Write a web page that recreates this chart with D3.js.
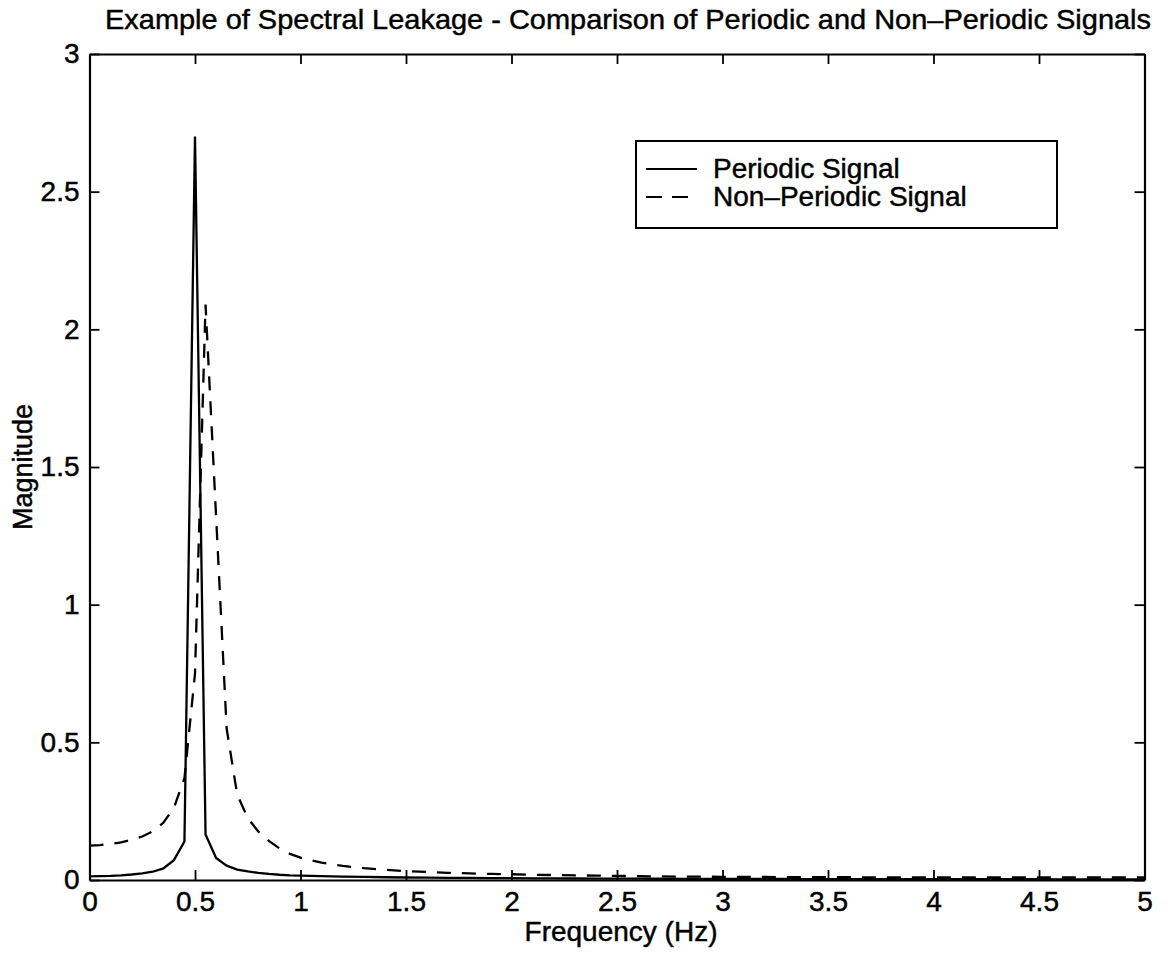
<!DOCTYPE html>
<html>
<head>
<meta charset="utf-8">
<script src="https://cdn.jsdelivr.net/npm/d3@7"></script>
<style>
  html, body { margin: 0; padding: 0; background: #fff; }
  svg { display: block; }
  text { font-family: "Liberation Sans", Arial, Helvetica, sans-serif; fill: #000; stroke: #000; stroke-width: 0.45px; }
</style>
</head>
<body>
<svg id="chart" width="1168" height="956"></svg>
<script>
// ---- data ----
const titleText = "Example of Spectral Leakage - Comparison of Periodic and Non\u2013Periodic Signals";
const xLabel = "Frequency (Hz)";
const yLabel = "Magnitude";
const seriesNames = ["Periodic Signal", "Non\u2013Periodic Signal"];

const freqs = [0, 0.05, 0.1, 0.15, 0.2, 0.25, 0.3, 0.35, 0.4, 0.45, 0.5, 0.55, 0.6, 0.65, 0.7, 0.75, 0.8, 0.85, 0.9, 0.95, 1.0,
  1.1, 1.2, 1.3, 1.4, 1.5, 1.6, 1.7, 1.8, 1.9, 2.0, 2.1, 2.2, 2.3, 2.4, 2.5, 2.6, 2.7, 2.8, 2.9, 3.0,
  3.1, 3.2, 3.3, 3.4, 3.5, 3.6, 3.7, 3.8, 3.9, 4.0, 4.1, 4.2, 4.3, 4.4, 4.5, 4.6, 4.7, 4.8, 4.9, 5.0];

const periodic = [0.013, 0.014, 0.015, 0.017, 0.020, 0.024, 0.030, 0.042, 0.072, 0.14, 2.70, 0.165, 0.080, 0.052, 0.038, 0.031, 0.026, 0.022, 0.019, 0.017, 0.016,
  0.014, 0.012, 0.011, 0.010, 0.009, 0.0085, 0.008, 0.0075, 0.007, 0.0066, 0.0062, 0.0058, 0.0055, 0.0052, 0.005, 0.0047, 0.0045, 0.0043, 0.0041, 0.004,
  0.0038, 0.0037, 0.0036, 0.0035, 0.0034, 0.0033, 0.0032, 0.0031, 0.003, 0.003, 0.0029, 0.0028, 0.0028, 0.0027, 0.0027, 0.0026, 0.0026, 0.0025, 0.0025, 0.0025];

const nonPeriodic = [0.125, 0.127, 0.131, 0.137, 0.146, 0.158, 0.177, 0.208, 0.262, 0.37, 0.75, 2.09, 1.32, 0.55, 0.31, 0.225, 0.176, 0.142, 0.115, 0.095, 0.081,
  0.063, 0.051, 0.043, 0.037, 0.032, 0.029, 0.026, 0.024, 0.022, 0.021, 0.019, 0.018, 0.017, 0.016, 0.015, 0.014, 0.013, 0.0125, 0.012, 0.0115,
  0.011, 0.011, 0.0105, 0.0105, 0.010, 0.010, 0.0098, 0.0096, 0.0095, 0.0094, 0.0093, 0.0092, 0.0092, 0.0091, 0.0091, 0.009, 0.009, 0.009, 0.009, 0.009];

const xTicks = [0, 0.5, 1, 1.5, 2, 2.5, 3, 3.5, 4, 4.5, 5];
const yTicks = [0, 0.5, 1, 1.5, 2, 2.5, 3];

// ---- layout ----
const svg = d3.select("#chart");
const L = 89.5, R = 1144.5, T = 54, B = 880;
const x = d3.scaleLinear().domain([0, 5]).range([L, R]);
const y = d3.scaleLinear().domain([0, 3]).range([B, T]);
const fmt = d => String(d);
const tickFont = 28;

svg.append("rect").attr("width", 1168).attr("height", 956).attr("fill", "#fff");

// lines
const line = d3.line().x((d, i) => x(freqs[i])).y(d => y(d));
svg.append("path").datum(nonPeriodic)
  .attr("d", line).attr("fill", "none").attr("stroke", "#000")
  .attr("stroke-width", 2.3).attr("stroke-dasharray", "14,11");
svg.append("path").datum(periodic)
  .attr("d", line).attr("fill", "none").attr("stroke", "#000")
  .attr("stroke-width", 2.3).attr("stroke-linejoin", "miter");

// axes
function styleAxis(g) {
  g.selectAll("path.domain").attr("stroke", "#000").attr("stroke-width", 2.2);
  g.selectAll(".tick line").attr("stroke", "#000").attr("stroke-width", 1.8);
  g.selectAll(".tick text").style("font-size", tickFont + "px").attr("fill", "#000")
    .style("font-family", '"Liberation Sans", Arial, sans-serif');
}
svg.append("g").attr("transform", `translate(0,${B})`)
  .call(d3.axisBottom(x).tickValues(xTicks).tickFormat(fmt).tickSizeInner(-10).tickSizeOuter(0).tickPadding(11))
  .call(styleAxis);
svg.append("g").attr("transform", `translate(0,${T})`)
  .call(d3.axisTop(x).tickValues(xTicks).tickFormat("").tickSizeInner(-10).tickSizeOuter(0))
  .call(styleAxis);
svg.append("g").attr("transform", `translate(${L},0)`)
  .call(d3.axisLeft(y).tickValues(yTicks).tickFormat(fmt).tickSizeInner(-10).tickSizeOuter(0).tickPadding(10))
  .call(styleAxis);
svg.append("g").attr("transform", `translate(${R},0)`)
  .call(d3.axisRight(y).tickValues(yTicks).tickFormat("").tickSizeInner(-10).tickSizeOuter(0))
  .call(styleAxis);

// title & labels
svg.append("text").attr("x", 628).attr("y", 29).attr("text-anchor", "middle")
  .attr("textLength", 1046).attr("lengthAdjust", "spacingAndGlyphs")
  .style("font-size", "28px").text(titleText);
svg.append("text").attr("x", (L + R) / 2 + 4).attr("y", 941).attr("text-anchor", "middle")
  .style("font-size", "28px").text(xLabel);
svg.append("text").attr("transform", `translate(32,${(T + B) / 2}) rotate(-90)`)
  .attr("text-anchor", "middle").style("font-size", "27px").text(yLabel);

// legend
const lg = svg.append("g");
lg.append("rect").attr("x", 636).attr("y", 141).attr("width", 421).attr("height", 87)
  .attr("fill", "#fff").attr("stroke", "#000").attr("stroke-width", 2);
const legendItems = [
  { name: seriesNames[0], dash: null, y: 169, x2: 697 },
  { name: seriesNames[1], dash: "16,10", y: 197, x2: 688 }
];
legendItems.forEach(it => {
  const ln = lg.append("line").attr("x1", 646).attr("x2", it.x2).attr("y1", it.y).attr("y2", it.y)
    .attr("stroke", "#000").attr("stroke-width", 2);
  if (it.dash) ln.attr("stroke-dasharray", it.dash);
  lg.append("text").attr("x", 713).attr("y", it.y + 9).style("font-size", "28px").text(it.name);
});
</script>
</body>
</html>
